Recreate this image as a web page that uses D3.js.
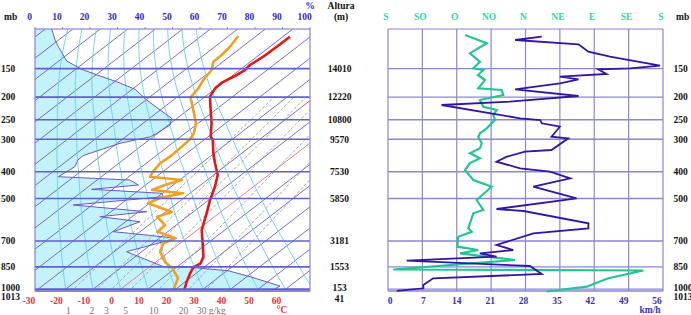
<!DOCTYPE html>
<html><head><meta charset="utf-8">
<script src="https://cdn.jsdelivr.net/npm/d3@7"></script>
<style>
body{margin:0;background:#fff}
svg{display:block}
text{font-family:"Liberation Serif","DejaVu Serif",serif;font-weight:bold;font-size:9.5px}
</style>
</head><body>
<svg id="chart" width="691" height="315"></svg>
<script>
// ---------- data ----------
const pressureLevels = [150, 200, 250, 300, 400, 500, 700, 850, 1000, 1013];
const levelHeights   = [14010, 12220, 10800, 9570, 7530, 5850, 3181, 1553, 153, 41];
const rhTicks   = [0, 10, 20, 30, 40, 50, 60, 70, 80, 90, 100];
const tempTicks = [-30, -20, -10, 0, 10, 20, 30, 40, 50, 60];
const mixingRatios = [1, 2, 3, 5, 10, 20, 30];
const thetaValues = [-20, -10, 0, 10, 20, 30, 40, 50, 60, 70];
const dirLabels = ["S", "SO", "O", "NO", "N", "NE", "E", "SE", "S"];
const speedTicks = [0, 7, 14, 21, 28, 35, 42, 49, 56];

// temperature profile (altitude m, °C)
const tempHeights = [16016,15387,14759,14237,13923,13546,13125,12773,12246,11410,10574,9732,9525,8689,8061,7326,6591,5755,4920,3870,3035,2193,1778,1527,1150,622,41];
const tempValues  = [-57.4,-57.5,-57.7,-58.6,-58.1,-58.9,-60.5,-60.3,-58.2,-51.7,-45.1,-39.1,-36.8,-30.3,-25.0,-18.5,-14.0,-9.5,-4.5,1.6,8.2,14.8,16.9,16.1,17.8,20.5,23.9];
// dew point profile (altitude m, °C)
const dewHeights = [16059,15387,14866,14445,13923,13295,12773,12208,11410,10574,9946,9569,9004,8476,8061,7533,7219,7012,6698,6383,6176,5881,5548,5001,4706,4184,3763,3349,3035,2507,1860,1483,854,41];
const dewValues  = [-76.5,-74.5,-73.6,-73.5,-70.2,-68.5,-66.4,-65.0,-58.0,-50.8,-46.8,-45.4,-44.8,-44.5,-45.0,-43.6,-42.3,-29.2,-33.0,-35.3,-22.5,-28.7,-30.5,-17.7,-20.9,-14.1,-13.5,-4.2,-6.1,-3.3,3.3,8.7,15.6,19.9];
// relative humidity profile (altitude m, %)
const rhHeights = [16500,15810,15387,14489,13967,13546,13188,12711,12038,11410,10888,10467,9946,9714,9525,9318,8897,8551,8268,7848,7219,7012,6698,6428,6176,5963,5441,5020,4706,4392,3764,3619,3349,2507,1565,1527,1313,936,352,41];
const rhValues  = [6.1,7.3,8.5,11.5,17,23.6,29.7,36.4,40.6,45.5,49.7,49.1,44.3,41.8,36.4,30.9,23.6,17.5,15.6,14.5,8.5,34.5,37.6,20.6,46.1,46.7,13.9,40.6,23.6,38.2,28.5,37,51.5,33.3,46.7,56.4,70.2,78.2,89.1,86];
// wind speed (altitude m, km/h)
const speedHeights = [16016,15808,15538,15073,14759,14193,14030,13967,13672,13502,13339,13087,12711,12290,11931,11724,10888,10782,10574,10361,9732,9632,8897,8790,8476,8162,7747,7533,7119,6591,5862,5190,5064,4291,3977,3663,2928,2614,2406,2193,1941,1608,1106,836,415,207,41];
const speedValues  = [31.3,25.9,38.8,40.8,45.2,55.4,49.3,42.8,44.5,35.0,38.8,35.0,25.9,38.8,24.8,10.9,26.9,31.0,31.3,35.0,33.3,36.7,33.3,27.9,24.2,22.1,26.9,33.0,37.1,29.6,38.4,22.1,27.6,40.8,40.8,29.6,22.1,25.5,18.7,22.1,3.8,28.9,31.3,9.2,7.2,7.2,1.8];
// wind direction (altitude m, degrees)
const dirHeights = [16122,15601,14972,14445,14030,13923,13609,13295,12773,12666,12352,12038,11617,11410,11096,10782,10574,10260,9946,9732,9318,9004,8689,8375,8080,7640,7012,6591,5755,5127,4920,3977,3763,3449,2821,2614,2406,1985,1389,1326,836,308,6];
const dirValues  = [280.8,309.2,287.3,300.4,291.7,304.8,297.8,307,298.2,328.8,330.9,300.4,304.8,322.3,317.8,320.1,315.7,309.2,300.4,298.2,302.7,300.4,287.3,300.4,287.3,280.8,291.7,315.7,296.1,304.8,291.7,285.1,289.6,272,270.7,298.2,274.3,346.3,186.9,154.2,108.4,80.1,27.7];

// ---------- scales ----------
const svg = d3.select("#chart");
const L = {x0: 35, x1: 310, y0: 29};
const R = {x0: 388, x1: 663};
const SKEW = 7.5; // °C per km
const y = d3.scaleLinear().domain([0, 16500]).range([291.6, 29]);
const yBot = y(41);
const xT = d3.scaleLinear().domain([-30, 70]).range([L.x0, L.x1]);
const skewX = (T, h) => xT(T + SKEW * h / 1000);
const xRH = d3.scaleLinear().domain([0, 100]).range([L.x0, L.x1]);
const xDir = d3.scaleLinear().domain([0, 360]).range([R.x0, R.x1]);
const xSpd = d3.scaleLinear().domain([0, 56]).range([R.x0, R.x1]);
const dirOffset = d => ((d - 180) % 360 + 360) % 360;

// pressure as function of altitude (log-linear interpolation between levels)
const lvl = pressureLevels.map((p, i) => ({p, h: levelHeights[i]})).sort((a, b) => a.h - b.h);
function pAt(h) {
  let i = 0;
  if (h <= lvl[0].h) i = 0;
  else if (h >= lvl[lvl.length - 1].h) i = lvl.length - 2;
  else while (!(h >= lvl[i].h && h <= lvl[i + 1].h)) i++;
  const a = lvl[i], b = lvl[i + 1];
  const t = (h - a.h) / (b.h - a.h);
  return Math.exp(Math.log(a.p) + t * (Math.log(b.p) - Math.log(a.p)));
}
const hs = d3.range(0, 16501, 100);

// ---------- left diagram ----------
const defs = svg.append("defs");
defs.append("clipPath").attr("id", "clipL").append("rect")
  .attr("x", L.x0).attr("y", L.y0).attr("width", L.x1 - L.x0).attr("height", yBot - L.y0);
const gL = svg.append("g").attr("clip-path", "url(#clipL)");

// humidity fill
const rhData = rhHeights.map((h, i) => ({h, v: rhValues[i]}));
gL.append("path").datum(rhData)
  .attr("d", d3.area().y(d => y(d.h)).x0(L.x0).x1(d => xRH(d.v)))
  .attr("fill", "#c4f2fa");

// isotherms
const line = d3.line();
d3.range(-160, 71, 10).forEach(T => {
  gL.append("path").attr("d", line([[skewX(T, 0), y(0)], [skewX(T, 16500), y(16500)]]))
    .attr("stroke", T === 0 ? "#f07070" : "#5a48c0").attr("stroke-width", T === 0 ? 0.9 : 0.8).attr("fill", "none");
});
// dry adiabats
thetaValues.forEach(th => {
  const pts = hs.map(h => [skewX((th + 273.15) * Math.pow(pAt(h) / 1000, 0.2857) - 273.15, h), y(h)]);
  gL.append("path").attr("d", line(pts)).attr("stroke", "#6cd2f2").attr("stroke-width", 1).attr("fill", "none");
});
// mixing ratio lines
mixingRatios.forEach(w => {
  const pts = hs.filter(h => h <= 12300).map(h => {
    const p = pAt(h), e = w * p / (622 + w), l = Math.log(e / 6.112);
    return [skewX(243.5 * l / (17.67 - l), h), y(h)];
  });
  gL.append("path").attr("d", line(pts)).attr("stroke", "#9a9a9a").attr("stroke-width", 0.9)
    .attr("stroke-dasharray", "3,2").attr("fill", "none");
});
// humidity outline
gL.append("path").datum(rhData)
  .attr("d", d3.line().x(d => xRH(d.v)).y(d => y(d.h)))
  .attr("stroke", "#6858c8").attr("stroke-width", 1).attr("fill", "none");
// pressure lines
levelHeights.forEach(h => {
  svg.append("line").attr("x1", L.x0).attr("x2", L.x1).attr("y1", y(h)).attr("y2", y(h))
    .attr("stroke", "#5f5fcf").attr("stroke-width", 1.6);
});
// frame
svg.append("rect").attr("x", L.x0).attr("y", L.y0).attr("width", L.x1 - L.x0).attr("height", yBot - L.y0)
  .attr("fill", "none").attr("stroke", "#8a86d8").attr("stroke-width", 1.2);
rhTicks.forEach(v => svg.append("line").attr("x1", xRH(v)).attr("x2", xRH(v)).attr("y1", L.y0).attr("y2", L.y0 - 2)
  .attr("stroke", "#8a86d8"));

// dew point and temperature
gL.append("path").datum(dewHeights.map((h, i) => [skewX(dewValues[i], h), y(h)]))
  .attr("d", line).attr("stroke", "#f2a024").attr("stroke-width", 2.6).attr("fill", "none").attr("stroke-linejoin", "round");
gL.append("path").datum(tempHeights.map((h, i) => [skewX(tempValues[i], h), y(h)]))
  .attr("d", line).attr("stroke", "#e41616").attr("stroke-width", 2.6).attr("fill", "none").attr("stroke-linejoin", "round");

// labels left
svg.append("text").attr("x", 4).attr("y", 20).attr("fill", "#111").text("mb");
rhTicks.forEach(v => svg.append("text").attr("x", xRH(v) - 5.5).attr("y", 20).attr("text-anchor", "middle")
  .attr("fill", "#2a2ac8").text(v));
svg.append("text").attr("x", 310).attr("y", 9).attr("text-anchor", "middle").attr("fill", "#2a2ac8").text("%");
tempTicks.forEach(v => svg.append("text").attr("x", xT(v) - 6).attr("y", 303.5).attr("text-anchor", "middle")
  .attr("fill", "#f03030").text(v));
svg.append("text").attr("x", 282).attr("y", 313).attr("text-anchor", "middle").attr("fill", "#f03030").text("°C");
mixingRatios.forEach(w => {
  const e = w * 1013 / (622 + w), l = Math.log(e / 6.112);
  const xx = xT(243.5 * l / (17.67 - l)) - 2.5;
  svg.append("text").attr("x", xx).attr("y", 313.5).attr("text-anchor", w === 30 ? "start" : "middle")
    .attr("dx", w === 30 ? -5 : 0).style("font-weight", "normal").attr("fill", "#777")
    .text(w === 30 ? "30 g/kg" : w);
});
pressureLevels.forEach((p, i) => {
  const yy = y(levelHeights[i]) + 3.3 + (p === 1013 ? 6 : p === 1000 ? -1 : 0);
  svg.append("text").attr("x", 1).attr("y", yy).attr("fill", "#111").text(p);
  svg.append("text").attr("x", 339.5).attr("y", yy + (p === 1013 ? 2 : 0)).attr("text-anchor", "middle").attr("fill", "#111").text(levelHeights[i]);
  svg.append("text").attr("x", 673.5).attr("y", yy).attr("fill", "#111").text(p);
});
svg.append("text").attr("x", 341).attr("y", 9).attr("text-anchor", "middle").attr("fill", "#111").text("Altura");
svg.append("text").attr("x", 341).attr("y", 20).attr("text-anchor", "middle").attr("fill", "#111").text("(m)");
svg.append("text").attr("x", 676).attr("y", 20).attr("fill", "#111").text("mb");

// ---------- right diagram ----------
d3.range(0, 361, 45).forEach(d => svg.append("line").attr("x1", xDir(d)).attr("x2", xDir(d)).attr("y1", L.y0).attr("y2", yBot)
  .attr("stroke", "#8a86d8").attr("stroke-width", 1.2));
levelHeights.forEach(h => svg.append("line").attr("x1", R.x0).attr("x2", R.x1).attr("y1", y(h)).attr("y2", y(h))
  .attr("stroke", "#8a86d8").attr("stroke-width", 1.4));
svg.append("line").attr("x1", R.x0).attr("x2", R.x1).attr("y1", L.y0).attr("y2", L.y0).attr("stroke", "#8a86d8").attr("stroke-width", 1.2);

svg.append("path").datum(dirHeights.map((h, i) => [xDir(dirOffset(dirValues[i])), y(h)]))
  .attr("d", line).attr("stroke", "#24c496").attr("stroke-width", 2.2).attr("fill", "none");
svg.append("path").datum(speedHeights.map((h, i) => [xSpd(speedValues[i]), y(h)]))
  .attr("d", line).attr("stroke", "#3414a4").attr("stroke-width", 1.8).attr("fill", "none");

dirLabels.forEach((t, i) => svg.append("text").attr("x", xDir(i * 45) - 2).attr("y", 20).attr("text-anchor", "middle")
  .attr("fill", "#30d8a0").text(t));
const xSpdLbl = d3.scaleLinear().domain([0, 56]).range([390, 657]);
speedTicks.forEach(v => svg.append("text").attr("x", xSpdLbl(v)).attr("y", 303.5).attr("text-anchor", "middle")
  .attr("fill", "#3a30b0").text(v));
svg.append("text").attr("x", 650).attr("y", 312.5).attr("text-anchor", "middle").attr("fill", "#3a30b0").text("km/h");
</script>
</body></html>
